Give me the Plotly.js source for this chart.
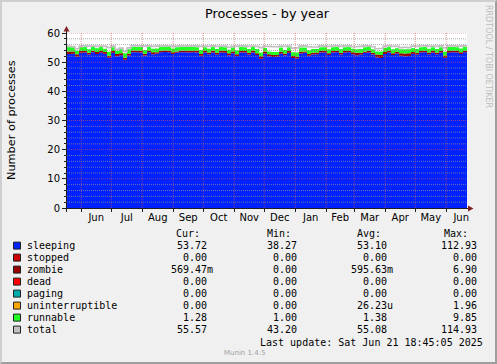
<!DOCTYPE html>
<html><head><meta charset="utf-8">
<script src="https://cdn.plot.ly/plotly-3.0.1.min.js"></script>
<style>
html,body{margin:0;padding:0;background:#F0F0F0;}
#wrap{position:relative;width:497px;height:364px;overflow:hidden;}
#chart{position:absolute;left:0;top:0;width:497px;height:364px;}
#frame{position:absolute;left:0;top:0;width:497px;height:364px;box-sizing:border-box;border-style:solid;border-width:2px;border-color:#CFCFCF #9E9E9E #9E9E9E #CFCFCF;pointer-events:none;}
</style></head><body>
<div id="wrap"><div id="chart"></div><div id="frame"></div></div>
<script>
// ---- data ----
const startTime = Date.UTC(2024, 4, 17, 18, 45, 5);
const endTime = Date.UTC(2025, 5, 21, 18, 45, 5);
const stepDays = 4;

const sleeping = [52.8,52.9,51.9,53.2,53.3,52.6,53.4,52.8,53.3,52.9,
  51.5,53.2,52.0,52.4,50.8,52.3,53.4,53.4,53.3,52.3,
  53.4,52.7,52.9,53.4,53.5,53.4,52.8,53.2,53.4,53.4,
  53.3,53.4,53.3,52.2,53.3,52.7,53.3,52.6,53.3,53.2,
  52.4,53.1,52.1,53.3,53.3,52.6,53.3,52.5,51.2,53.0,
  52.0,51.8,51.9,53.0,52.4,53.2,51.4,51.3,53.0,53.2,
  52.2,52.6,52.7,53.3,53.3,52.5,53.3,53.4,52.6,53.3,
  53.4,52.7,52.4,52.6,53.2,53.3,52.6,51.6,51.4,52.8,
  53.3,52.5,53.0,52.2,52.0,52.1,52.9,52.6,53.3,53.4,
  52.7,53.3,52.7,53.3,51.5,53.2,53.4,53.3,52.8,53.4];
const zombie = [0.9,0.8,0.8,0.6,0.5,0.6,0.5,0.7,0.5,0.6,
  0.7,0.6,0.8,0.7,0.7,0.6,0.6,0.5,0.6,0.6,
  0.5,0.7,0.5,0.5,0.5,0.5,0.6,0.5,0.5,0.5,
  0.6,0.5,0.6,0.6,0.5,0.6,0.6,0.6,0.6,0.6,
  0.7,0.6,0.6,0.5,0.5,0.6,0.6,0.6,0.8,0.6,
  0.7,0.7,0.6,0.6,0.6,0.6,0.7,0.6,0.6,0.5,
  0.6,0.6,0.6,0.5,0.5,0.6,0.5,0.5,0.6,0.5,
  0.5,0.7,0.8,0.6,0.5,0.6,0.6,1.0,1.1,0.7,
  0.6,0.6,0.6,0.9,1.0,1.0,0.6,0.6,0.5,0.5,
  0.6,0.5,0.6,0.5,0.8,0.6,0.5,0.5,0.6,0.5];
const runnable = [1.5,1.4,1.2,1.3,1.4,1.2,1.3,1.3,1.4,1.1,
  1.4,1.3,1.1,1.3,1.6,1.5,1.3,1.3,1.3,1.3,
  1.3,1.2,1.3,1.4,1.3,1.3,1.3,1.4,1.3,1.3,
  1.3,1.3,1.2,1.4,1.3,1.3,1.4,1.3,1.3,1.3,
  1.2,1.3,1.3,1.4,1.3,1.3,1.3,1.4,1.3,1.3,
  1.0,1.0,1.0,1.4,1.2,1.3,1.3,1.4,1.4,1.3,
  1.3,1.3,1.2,1.3,1.3,1.3,1.3,1.3,1.3,1.3,
  1.3,1.2,1.2,1.3,1.4,1.3,1.2,1.1,1.2,1.4,
  1.3,1.3,1.2,1.3,1.4,1.3,1.4,1.3,1.3,1.3,
  1.3,1.3,1.2,1.3,1.3,1.4,1.3,1.3,1.3,1.4];
const total = [55.4,55.3,54.6,55.4,55.6,55.5,55.5,55.4,55.5,55.4,
  55.0,55.5,54.4,54.8,53.6,54.9,55.7,55.6,55.6,55.5,
  55.6,55.4,55.5,55.6,55.6,55.5,55.4,55.5,55.6,55.6,
  55.5,55.6,55.5,55.4,55.5,55.4,55.6,55.4,55.5,55.5,
  55.1,55.4,55.4,55.6,55.5,55.4,55.5,55.4,55.0,55.4,
  55.4,55.3,55.3,55.5,55.4,55.5,54.8,54.9,55.5,55.6,
  55.3,55.2,55.2,55.6,55.5,55.4,55.5,55.6,55.4,55.6,
  55.6,55.3,55.3,55.4,55.6,55.5,55.3,54.6,54.7,55.4,
  55.6,55.4,55.4,55.0,55.1,55.0,55.5,55.4,55.6,55.6,
  55.4,55.5,55.4,55.6,54.9,55.6,55.6,55.5,55.5,55.6];

const monthStarts = ['2024-06-01','2024-07-01','2024-08-01','2024-09-01','2024-10-01','2024-11-01',
  '2024-12-01','2025-01-01','2025-02-01','2025-03-01','2025-04-01','2025-05-01','2025-06-01'];
const labelDates = ['2024-06-16','2024-07-16 12:00','2024-08-16 12:00','2024-09-16','2024-10-16 12:00','2024-11-16',
  '2024-12-16 12:00','2025-01-16 12:00','2025-02-15','2025-03-16 12:00','2025-04-16','2025-05-16 12:00','2025-06-16'];
const monthLabels = ['Jun','Jul','Aug','Sep','Oct','Nov','Dec','Jan','Feb','Mar','Apr','May','Jun'];

const legendNames = ['sleeping','stopped','zombie','dead','paging','uninterruptible','runnable','total'];
const legendColors = ['#0022ff','#cc0000','#990000','#ff0000','#00aaaa','#ffa500','#22ff22','#c0c0c0'];
const curValues = ['53.72','0.00','569.47m','0.00','0.00','0.00','1.28','55.57'];
const minValues = ['38.27','0.00','0.00','0.00','0.00','0.00','1.00','43.20'];
const avgValues = ['53.10','0.00','595.63m','0.00','0.00','26.23u','1.38','55.08'];
const maxValues = ['112.93','0.00','6.90','0.00','0.00','1.96','9.85','114.93'];
const columnHeaders = ['Cur:','Min:','Avg:','Max:'];

// ---- helpers ----
function fmt(ms){ return new Date(ms).toISOString().slice(0,19).replace('T',' '); }
const xs = sleeping.map((_, i) => fmt(startTime + i*stepDays*86400000));
xs.push(fmt(endTime));
const ext = a => a.concat([a[a.length-1]]);

const L = 67, R = 467, T = 33, B = 208;
const px = x => (x - L) / (R - L);
const py = y => (B - y) / (B - T);

const traces = [
  {x: xs, y: ext(sleeping), type:'scatter', mode:'lines', stackgroup:'p', line:{width:0, shape:'hv'}, fillcolor:'#0022ff', name:'sleeping'},
  {x: xs, y: ext(zombie), type:'scatter', mode:'lines', stackgroup:'p', line:{width:0, shape:'hv'}, fillcolor:'#990000', name:'zombie'},
  {x: xs, y: ext(runnable), type:'scatter', mode:'lines', stackgroup:'p', line:{width:0, shape:'hv'}, fillcolor:'#22ff22', name:'runnable'},
  {x: xs, y: ext(total), type:'scatter', mode:'lines', line:{width:1.6, shape:'hv', color:'#c0c0c0'}, name:'total'}
];

const gridMinor = 'rgba(143,143,143,0.75)';
const gridMajor = 'rgba(222,79,79,0.6)';
const shapes = [];
monthStarts.forEach(d => shapes.push({type:'line', xref:'x', yref:'paper', x0:d, x1:d, y0:0, y1:1, layer:'above',
  line:{color:gridMajor, width:1, dash:'1px,1px'}}));
for (let v = 2; v <= 60; v += 2) {
  shapes.push({type:'line', xref:'paper', yref:'y', x0:0, x1:1, y0:v, y1:v, layer:'above',
    line:{color: v % 10 === 0 ? gridMajor : gridMinor, width:1, dash:'1px,1px'}});
}
// axis lines and arrows
shapes.push({type:'line', xref:'paper', yref:'paper', x0:px(66.5), x1:px(66.5), y0:py(212), y1:py(29), layer:'above', line:{color:'#1f1f1f', width:1}});
shapes.push({type:'line', xref:'paper', yref:'paper', x0:px(63), x1:px(469), y0:py(208.5), y1:py(208.5), layer:'above', line:{color:'#1f1f1f', width:1}});
shapes.push({type:'path', xref:'paper', yref:'paper', layer:'above', fillcolor:'#801f1f', line:{width:0},
  path:`M${px(63.5)},${py(31.5)} L${px(69.5)},${py(31.5)} L${px(66.5)},${py(26)} Z`});
shapes.push({type:'path', xref:'paper', yref:'paper', layer:'above', fillcolor:'#801f1f', line:{width:0},
  path:`M${px(468)},${py(205.5)} L${px(468)},${py(211.5)} L${px(473.5)},${py(208.5)} Z`});

const mono = {family:'DejaVu Sans Mono', size:10, color:'#000'};
const annotations = [];
function ann(text, x, y, xanchor, font, extra){
  annotations.push(Object.assign({xref:'paper', yref:'paper', x:px(x), y:py(y), text:text, showarrow:false,
    xanchor:xanchor, yanchor:'middle', font:font, borderpad:0, borderwidth:0}, extra||{}));
}
const headerX = [176.2, 267.2, 356.8, 444.0];
columnHeaders.forEach((h, i) => ann(h, headerX[i], 233.4, 'left', mono));
const colRight = [207.2, 297.2, 387.2, 477.2];
const cols = [curValues, minValues, avgValues, maxValues];
legendNames.forEach((n, k) => {
  const y = 245.6 + 12*k;
  shapes.push({type:'rect', xref:'paper', yref:'paper', x0:px(13.5), x1:px(20.5), y0:py(y+3.5), y1:py(y-3.5),
    fillcolor:legendColors[k], line:{color:'#222', width:1}, layer:'above'});
  ann(n, 26.5, y, 'left', mono);
  cols.forEach((c, j) => {
    const s = c[k];
    const hasSuffix = /[a-z]$/.test(s);
    ann(s, colRight[j] + (hasSuffix ? 6 : 0), y, 'right', mono);
  });
});
ann('Last update: Sat Jun 21 18:45:05 2025', 483, 342.3, 'right', mono);
ann('Munin 1.4.5', 244.7, 352.7, 'center', {family:'DejaVu Sans', size:7, color:'#a0a0a0'});
ann('RRDTOOL / TOBI OETIKER', 489, 56, 'center', {family:'DejaVu Sans', size:8, color:'#bdbdbd'}, {textangle:90});
ann('Number of processes', 11, 120, 'center', {family:'DejaVu Sans', size:11.3, color:'#000'}, {textangle:-90});

const layout = {
  width:497, height:364, autosize:false,
  margin:{l:L, r:497-R, t:T, b:364-B, pad:0},
  paper_bgcolor:'#F0F0F0', plot_bgcolor:'#FFFFFF',
  showlegend:false,
  font:{family:'DejaVu Sans', size:10, color:'#000'},
  title:{text:'Processes - by year', font:{family:'DejaVu Sans', size:12.8, color:'#000'},
    x:0.5, xref:'paper', xanchor:'center', y:1-13.3/364, yref:'container', yanchor:'middle'},
  xaxis:{type:'date', range:[fmt(startTime), fmt(endTime)], tickmode:'array', tickvals:labelDates, ticktext:monthLabels,
    ticks:'', ticklabelstandoff:2, showgrid:false, zeroline:false, showline:false, tickfont:{family:'DejaVu Sans', size:10, color:'#000'},
    minor:{tickmode:'array', tickvals:monthStarts, ticks:'outside', ticklen:3, tickcolor:'#1f1f1f', showgrid:false}},
  yaxis:{range:[0,60], tickmode:'linear', tick0:0, dtick:10, ticks:'outside', ticklen:4, tickcolor:'#1f1f1f',
    showgrid:false, zeroline:false, showline:false, tickfont:{family:'DejaVu Sans', size:10, color:'#000'},
    minor:{dtick:2, tick0:0, ticks:'outside', ticklen:2, tickcolor:'#1f1f1f', showgrid:false}},
  shapes:shapes, annotations:annotations
};
Plotly.newPlot('chart', traces, layout, {staticPlot:true, displayModeBar:false});
</script></body></html>
